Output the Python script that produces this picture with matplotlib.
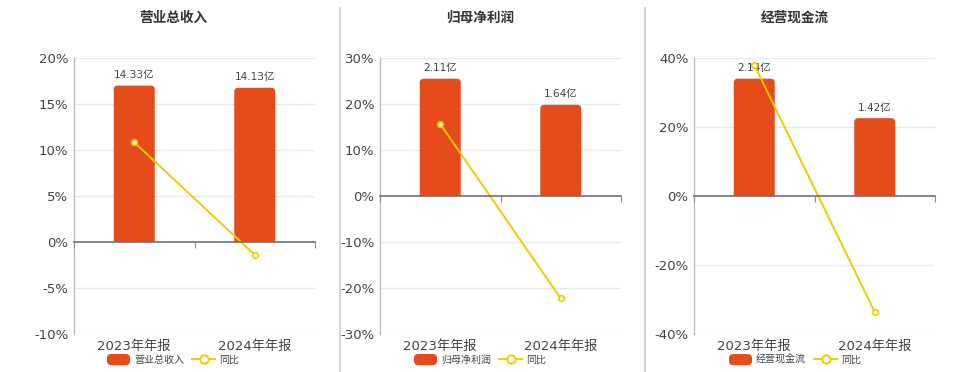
import numpy as np
import matplotlib
matplotlib.use("Agg")
import matplotlib.pyplot as plt
from matplotlib.patches import FancyBboxPatch, Rectangle, PathPatch
from matplotlib.path import Path
from matplotlib.lines import Line2D
from matplotlib.legend_handler import HandlerPatch

plt.rcParams['font.family'] = ['DejaVu Sans', 'Noto Sans CJK SC']

# Data
categories = ['2023年年报', '2024年年报']
titles = ['营业总收入', '归母净利润', '经营现金流']
values = [[14.33, 14.13], [2.11, 1.64], [2.14, 1.42]]      # 亿
yoy = [[10.84, -1.40], [15.65, -22.27], [38.0, -33.64]]    # %
yranges = [(-10, 20, 5), (-30, 30, 10), (-40, 40, 20)]

# layout (pixels of a 960x372 canvas)
W, H = 960, 372
axes_px = [(74, 315), (380, 621), (694, 935)]
ax_top, ax_bot = 58, 334
center_px = [173, 480, 795]
bar_peak_pct = [17.0, 25.5, 34.0]   # where the tallest bar reaches on the % scale
seps = [340, 645]

BAR = '#E64B1C'
LINE = '#F5C800'
GRID = '#E4E9F2'
TXT = '#444444'

fig = plt.figure(figsize=(9.6, 3.72), dpi=100)


# bar with only the top corners rounded
def rounded_bar(ax, x, h, width, r_px, ax_w_px, ax_h_px):
    x0, x1 = ax.get_xlim()
    y0, y1 = ax.get_ylim()
    rx = r_px * (x1 - x0) / ax_w_px
    ry = r_px * (y1 - y0) / ax_h_px
    a, b = x - width / 2, x + width / 2
    verts = [(a, 0), (a, h - ry), (a, h), (a + rx, h), (b - rx, h), (b, h), (b, h - ry), (b, 0), (a, 0)]
    codes = [Path.MOVETO, Path.LINETO, Path.CURVE3, Path.CURVE3, Path.LINETO,
             Path.CURVE3, Path.CURVE3, Path.LINETO, Path.CLOSEPOLY]
    ax.add_patch(PathPatch(Path(verts, codes), fc=BAR, ec='none'))


class RoundHandler(HandlerPatch):
    def create_artists(self, legend, orig_handle, xdescent, ydescent, width, height, fontsize, trans):
        p = FancyBboxPatch((-xdescent, -ydescent - 1), width, height + 2,
                           boxstyle="round,pad=0,rounding_size=3", fc=BAR, ec='none', transform=trans)
        return [p]


for i in range(3):
    l, r = axes_px[i]
    w_px = r - l
    h_px = ax_bot - ax_top
    rect = [l / W, 1 - ax_bot / H, w_px / W, h_px / H]
    lo, hi, step = yranges[i]
    x = np.arange(len(categories))

    # percent axis: grid, tick labels
    ax = fig.add_axes(rect)
    ax.set_xlim(-0.5, 1.5)
    ax.set_ylim(lo, hi)
    ticks = np.arange(lo, hi + step / 2, step)
    ax.set_yticks(ticks)
    ax.set_yticklabels([f'{int(t)}%' for t in ticks], fontsize=9.5, color=TXT)
    for t in ticks:
        if t != 0:
            ax.axhline(t, color=GRID, lw=1, zorder=0)
    ax.set_xticks(x)
    ax.set_xticklabels(categories, fontsize=9.5, color=TXT)
    ax.tick_params(axis='both', length=0, pad=4)
    for s in ['top', 'right', 'bottom']:
        ax.spines[s].set_visible(False)
    ax.spines['left'].set_color('#B4B8C0')
    ax.spines['left'].set_linewidth(0.9)

    # bar axis (hidden scale)
    bx = fig.add_axes(rect)
    bx.patch.set_visible(False)
    scale = bar_peak_pct[i] / max(values[i])
    bx.set_xlim(-0.5, 1.5)
    bx.set_ylim(lo / scale, hi / scale)
    bx.axis('off')
    for xi, v in zip(x, values[i]):
        rounded_bar(bx, xi, v, 0.34, 4, w_px, h_px)
        bx.annotate(f'{v:.2f}亿', (xi, v), xytext=(0, 4), textcoords='offset points',
                    ha='center', va='bottom', fontsize=7.6, color=TXT)

    # line axis with zero baseline
    lx = fig.add_axes(rect)
    lx.patch.set_visible(False)
    lx.set_xlim(-0.5, 1.5)
    lx.set_ylim(lo, hi)
    lx.set_yticks([])
    for s in ['top', 'right', 'left']:
        lx.spines[s].set_visible(False)
    lx.spines['bottom'].set_position(('data', 0))
    lx.spines['bottom'].set_color('#6E7079')
    lx.spines['bottom'].set_linewidth(1.2)
    lx.set_xticks([-0.5, 0.5, 1.5])
    lx.tick_params(axis='x', length=4, color='#8A8D94', labelbottom=False, direction='out')
    lx.plot(x, yoy[i], color=LINE, lw=1.4, marker='o', ms=4, mfc='white', mec=LINE, mew=1.2)

    fig.text(center_px[i] / W, 1 - 18 / H, titles[i], ha='center', va='center',
             fontsize=9.8, fontweight='bold', color='#333333')

    handles = [Rectangle((0, 0), 1, 1, fc=BAR),
               Line2D([], [], color=LINE, lw=1.4, marker='o', ms=6, mfc='white', mec=LINE, mew=1.4)]
    fig.legend(handles, [titles[i], '同比'], loc='center', ncol=2, frameon=False,
               bbox_to_anchor=(center_px[i] / W, 1 - 360 / H), fontsize=7.2,
               handlelength=2.3, handleheight=0.9, handletextpad=0.4, columnspacing=0.8,
               labelcolor=TXT, handler_map={Rectangle: RoundHandler()})

for sx in seps:
    fig.add_artist(Line2D([sx / W, sx / W], [0, 1 - 8 / H], color='#D4D4D4', lw=1.5))

fig.savefig('out.png', dpi=100)
